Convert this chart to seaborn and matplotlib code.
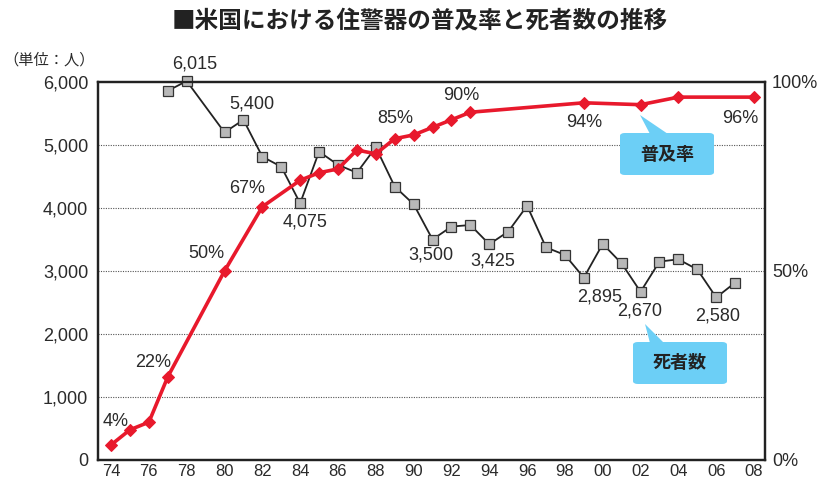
import matplotlib
matplotlib.use("Agg")
import matplotlib.pyplot as plt
import seaborn as sns
from matplotlib.patches import FancyBboxPatch, Polygon

# ---------------- data ----------------
death_years = [1977, 1978, 1980, 1981, 1982, 1983, 1984, 1985, 1986, 1987, 1988,
               1989, 1990, 1991, 1992, 1993, 1994, 1995, 1996, 1997, 1998, 1999,
               2000, 2001, 2002, 2003, 2004, 2005, 2006, 2007]
deaths = [5860, 6015, 5200, 5400, 4815, 4655, 4075, 4895, 4685, 4560, 4965,
          4340, 4060, 3500, 3705, 3730, 3425, 3625, 4035, 3375, 3255, 2895,
          3430, 3120, 2670, 3150, 3185, 3025, 2580, 2815]

rate_years = [1974, 1975, 1976, 1977, 1980, 1982, 1984, 1985, 1986, 1987, 1988,
              1989, 1990, 1991, 1992, 1993, 1999, 2002, 2004, 2008]
rate = [4, 8, 10, 22, 50, 67, 74, 76, 77, 82, 81,
        85, 86, 88, 90, 92, 94.5, 94, 96, 96]

death_label_years = [1978, 1981, 1984, 1991, 1994, 1999, 2002, 2006]
death_label_texts = ["6,015", "5,400", "4,075", "3,500", "3,425", "2,895", "2,670", "2,580"]
rate_label_years = [1974, 1977, 1980, 1982, 1989, 1993, 1999, 2008]
rate_label_texts = ["4%", "22%", "50%", "67%", "85%", "90%", "94%", "96%"]

x_ticks = list(range(1974, 2009, 2))
x_tick_labels = [f"{y % 100:02d}" for y in x_ticks]
left_ticks = [0, 1000, 2000, 3000, 4000, 5000, 6000]
left_tick_labels = [f"{v:,}" for v in left_ticks]
right_ticks = [0, 50, 100]
right_tick_labels = ["0%", "50%", "100%"]

title = "■米国における住警器の普及率と死者数の推移"
unit_label = "（単位：人）"
callout_rate = "普及率"
callout_death = "死者数"

# ---------------- style ----------------
sns.set_theme(style="white")
plt.rcParams["font.family"] = ["Liberation Sans", "Noto Sans CJK JP"]

W, H = 821, 483
fig = plt.figure(figsize=(W / 100, H / 100), dpi=100)
fig.patch.set_facecolor("white")


def fx(x, y):
    return (x / W, 1 - y / H)


ax_l, ax_r, ax_t, ax_b = 98, 765, 82, 460
ax = fig.add_axes([ax_l / W, 1 - ax_b / H, (ax_r - ax_l) / W, (ax_b - ax_t) / H])
ax2 = ax.twinx()

RED = "#e8192c"
TXT = "#2a2a2a"

# grid
for g in [1000, 2000, 3000, 4000, 5000]:
    ax.axhline(g, color="#555555", lw=0.8, ls=(0, (1, 1.2)), zorder=0)

sns.lineplot(x=death_years, y=deaths, ax=ax, color="#222222", linewidth=1.3,
             marker="s", markersize=7, markerfacecolor="#b8b8b8",
             markeredgecolor="#333333", markeredgewidth=0.9, clip_on=False,
             legend=False, zorder=3)
sns.lineplot(x=rate_years, y=rate, ax=ax2, color=RED, linewidth=2.6,
             marker="D", markersize=6.5, markerfacecolor=RED,
             markeredgecolor=RED, clip_on=False, legend=False, zorder=4)

ax.set_xlim(1973.31, 2008.58)
ax.set_ylim(0, 6000)
ax2.set_ylim(0, 100)

ax.set_xticks(x_ticks)
ax.set_xticklabels(x_tick_labels)
ax.set_yticks(left_ticks)
ax.set_yticklabels(left_tick_labels)
ax2.set_yticks(right_ticks)
ax2.set_yticklabels(right_tick_labels)
ax.set_xlabel("")
ax.set_ylabel("")
ax2.set_ylabel("")

ax.tick_params(axis="y", length=0, labelsize=13, colors=TXT, pad=7)
ax.tick_params(axis="x", length=0, labelsize=12, colors=TXT, pad=3)
ax2.tick_params(axis="y", length=0, labelsize=13, colors=TXT, pad=5)

for a in (ax, ax2):
    for s in a.spines.values():
        s.set_visible(True)
        s.set_color("#222222")
        s.set_linewidth(1.6)
ax.set_facecolor("white")

# data labels (offsets in pixels)
death_offsets = [(8, 17), (8, 16), (5, -19), (-2, -16), (4, -17), (16, -19), (-1, -19), (1, -19)]
for yr, txt, off in zip(death_label_years, death_label_texts, death_offsets):
    v = deaths[death_years.index(yr)]
    ax.annotate(txt, xy=(yr, v), xytext=off, textcoords="offset pixels",
                ha="center", va="center", fontsize=13, color=TXT, zorder=6,
                annotation_clip=False)

rate_offsets = [(5, 23), (-15, 14), (-18, 17), (-15, 18), (1, 20), (-9, 17), (0, -20), (-14, -21)]
for yr, txt, off in zip(rate_label_years, rate_label_texts, rate_offsets):
    v = rate[rate_years.index(yr)]
    ax2.annotate(txt, xy=(yr, v), xytext=off, textcoords="offset pixels",
                 ha="center", va="center", fontsize=13, color=TXT, zorder=6,
                 annotation_clip=False)

# title and unit
fig.text(*fx(420, 20), title, ha="center", va="center", fontsize=17,
         fontweight="bold", color="#222222", family=["Noto Sans CJK JP"])
fig.text(*fx(49, 60), unit_label, ha="center", va="center", fontsize=11,
         color=TXT, family=["Noto Sans CJK JP"])

# callouts
BLUE = "#6ccff6"


def callout(box, tip, base1, base2, text, tc):
    x0, y0, x1, y1 = box
    p1 = fx(x0, y1)
    bw = (x1 - x0) / W
    bh = (y1 - y0) / H
    fb = FancyBboxPatch(p1, bw, bh, boxstyle="round,pad=0,rounding_size=0.006",
                        transform=fig.transFigure, facecolor=BLUE,
                        edgecolor="none", zorder=7)
    fig.add_artist(fb)
    tri = Polygon([fx(*tip), fx(*base1), fx(*base2)], closed=True,
                  transform=fig.transFigure, facecolor=BLUE, edgecolor="none",
                  zorder=7)
    fig.add_artist(tri)
    fig.text(*fx(*tc), text, ha="center", va="center", fontsize=13,
             fontweight="bold", color="#222222", family=["Noto Sans CJK JP"],
             zorder=8)


callout((620, 133, 714, 175), (640, 115), (650, 134), (668, 134), callout_rate, (667, 154))
callout((633, 342, 727, 384), (645, 324), (650, 343), (664, 343), callout_death, (680, 363))

fig.savefig("out.png", dpi=100, facecolor="white")
